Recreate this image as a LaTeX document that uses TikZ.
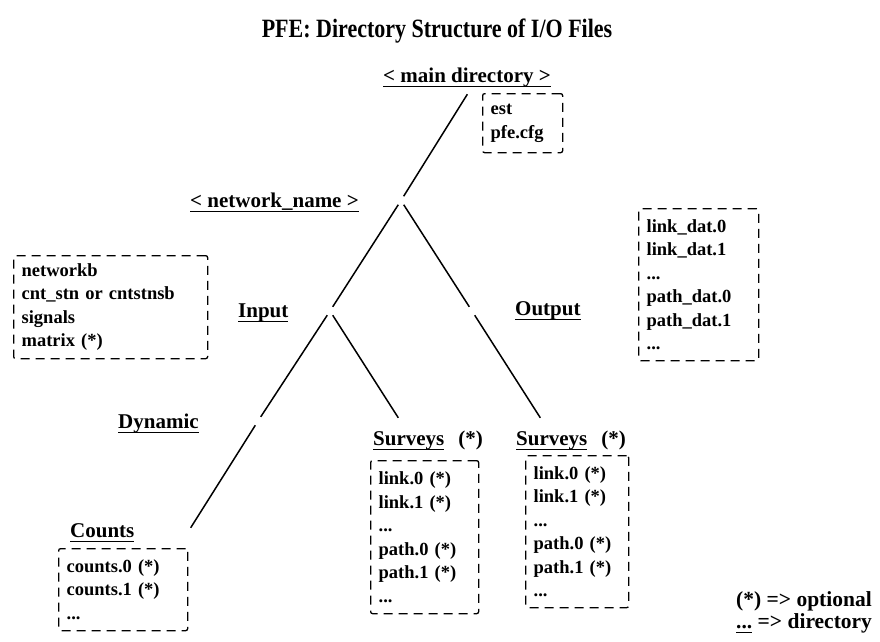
\documentclass[tikz,border=0pt]{standalone}
\usepackage{fontspec}
\setmainfont{Liberation Serif}

% heavy underline at a fixed depth, as used for directory names
\newcommand{\dirul}[1]{\setbox0\hbox{#1}\leavevmode\rlap{\rule[-5pt]{\wd0}{1.5pt}}\box0\relax}

\tikzset{
  branch/.style={line width=1.5pt, shorten <=5pt, shorten >=5pt},
  filebox/.style={draw, line width=1.3pt, dash pattern=on 9pt off 6pt, rounded corners=2pt,
    anchor=north west, align=left, inner xsep=8pt, inner ysep=0pt,
    font=\bfseries\fontsize{18.5}{23.5}\selectfont},
  dirlabel/.style={anchor=base west, inner sep=0pt, font=\bfseries\fontsize{21}{25}\selectfont},
}

\begin{document}
\begin{tikzpicture}[x=1pt, y=-1pt]
\useasboundingbox (0,0) rectangle (880,641);
\node[font=\bfseries\fontsize{22}{26}\selectfont, anchor=base] (title) at (437,37) {\scalebox{1}[1.2]{PFE: Directory Structure of I/O Files}};
% junctions of the tree
\coordinate (jmain) at (470,90);
\coordinate (jnet) at (401,200.5);
\coordinate (jin) at (330,311);
\coordinate (jout) at (472,311);
\coordinate (jdyn) at (258,421);
\coordinate (jcounts) at (188,532);
\coordinate (jsin) at (401,422);
\coordinate (jsout) at (543,422);
\draw[branch] (jmain) -- (jnet);
\draw[branch] (jnet) -- (jin);
\draw[branch] (jnet) -- (jout);
\draw[branch] (jin) -- (jdyn);
\draw[branch] (jdyn) -- (jcounts);
\draw[branch] (jin) -- (jsin);
\draw[branch] (jout) -- (jsout);
% directory names
\node[dirlabel, anchor=base] (maindir) at (467,82) {\dirul{< main directory >}};
\node[dirlabel] (netname) at (190,207) {\dirul{< network\_name >}};
\node[dirlabel] (input) at (238,317) {\dirul{Input}};
\node[dirlabel] (output) at (515,315) {\dirul{Output}};
\node[dirlabel] (dynamic) at (118,428) {\dirul{Dynamic}};
\node[dirlabel] (counts) at (70,537) {\dirul{Counts}};
\node[dirlabel] (insurveys) at (373,445) {\dirul{Surveys}\hspace{14pt}(*)};
\node[dirlabel] (outsurveys) at (516,445) {\dirul{Surveys}\hspace{14pt}(*)};
% files kept in each directory
\node[filebox, text width=64pt, minimum height=59pt] (mainfiles) at (482,93) {est\\pfe.cfg};
\node[filebox, text width=178pt, minimum height=103pt] (netfiles) at (13,255) {networkb\\cnt\_stn or cntstnsb\\signals\\matrix (*)};
\node[filebox, text width=104pt, minimum height=152pt] (outfiles) at (638,208) {link\_dat.0\\link\_dat.1\\...\\path\_dat.0\\path\_dat.1\\...};
\node[filebox, text width=92pt, minimum height=153pt] (insurvfiles) at (370,460) {link.0 (*)\\link.1 (*)\\...\\path.0 (*)\\path.1 (*)\\...};
\node[filebox, text width=87pt, minimum height=152pt] (outsurvfiles) at (525,455) {link.0 (*)\\link.1 (*)\\...\\path.0 (*)\\path.1 (*)\\...};
\node[filebox, text width=113pt, minimum height=82pt] (countfiles) at (58,548) {counts.0 (*)\\counts.1 (*)\\...};
% legend
\node[dirlabel, font=\bfseries\fontsize{21.5}{26}\selectfont] (optnote) at (736,606) {(*) => optional};
\node[dirlabel, font=\bfseries\fontsize{21.5}{26}\selectfont] (dirnote) at (736,628) {\dirul{...} => directory};
\end{tikzpicture}
\end{document}
